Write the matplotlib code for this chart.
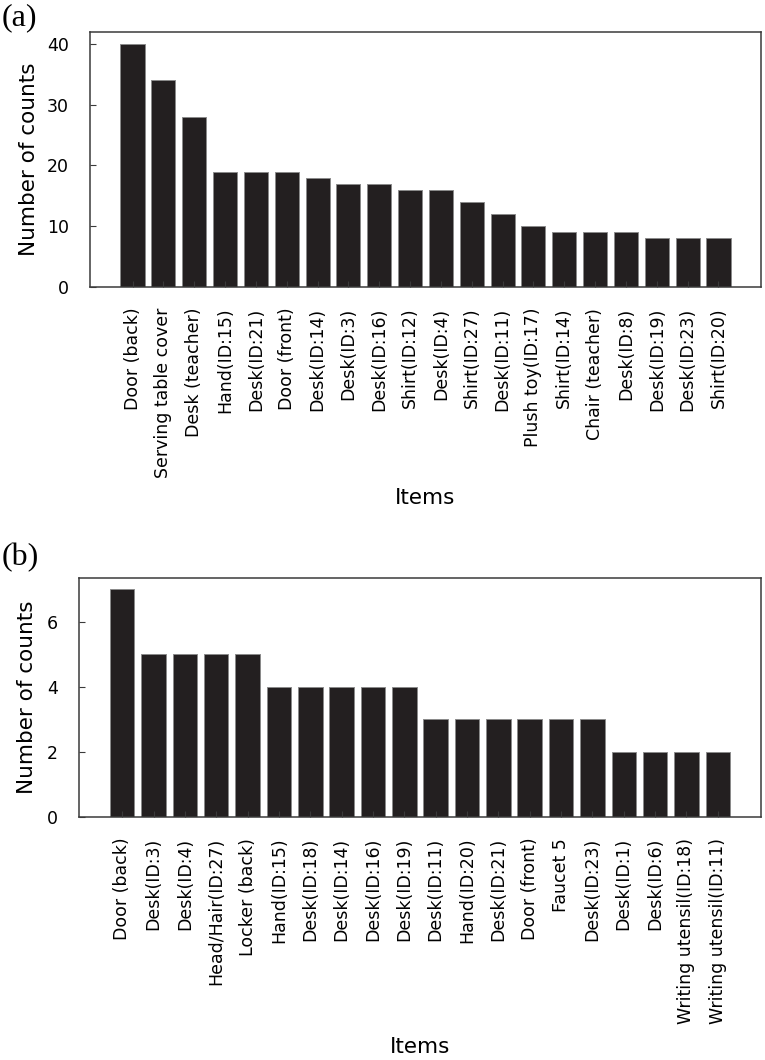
import matplotlib
matplotlib.use("Agg")
import matplotlib.pyplot as plt

# panel (a)
items_a = ["Door (back)", "Serving table cover", "Desk (teacher)", "Hand(ID:15)",
           "Desk(ID:21)", "Door (front)", "Desk(ID:14)", "Desk(ID:3)", "Desk(ID:16)",
           "Shirt(ID:12)", "Desk(ID:4)", "Shirt(ID:27)", "Desk(ID:11)",
           "Plush toy(ID:17)", "Shirt(ID:14)", "Chair (teacher)", "Desk(ID:8)",
           "Desk(ID:19)", "Desk(ID:23)", "Shirt(ID:20)"]
counts_a = [40, 34, 28, 19, 19, 19, 18, 17, 17, 16, 16, 14, 12, 10, 9, 9, 9, 8, 8, 8]

# panel (b)
items_b = ["Door (back)", "Desk(ID:3)", "Desk(ID:4)", "Head/Hair(ID:27)", "Locker (back)",
           "Hand(ID:15)", "Desk(ID:18)", "Desk(ID:14)", "Desk(ID:16)", "Desk(ID:19)",
           "Desk(ID:11)", "Hand(ID:20)", "Desk(ID:21)", "Door (front)", "Faucet 5",
           "Desk(ID:23)", "Desk(ID:1)", "Desk(ID:6)", "Writing utensil(ID:18)",
           "Writing utensil(ID:11)"]
counts_b = [7, 5, 5, 5, 5, 4, 4, 4, 4, 4, 3, 3, 3, 3, 3, 3, 2, 2, 2, 2]

W, H = 765, 1060
fig = plt.figure(figsize=(W / 100, H / 100), dpi=100)

def px_axes(left, top, right, bottom):
    return fig.add_axes([left / W, 1 - bottom / H, (right - left) / W, (bottom - top) / H])

ax_a = px_axes(90, 31.7, 761, 287)
ax_b = px_axes(79, 578, 761, 817)

# (axes, labels, values, yticks, bottom px, xlabel top px, ylabel centre px)
panels = [(ax_a, items_a, counts_a, [0, 10, 20, 30, 40], 287, 488, 29),
          (ax_b, items_b, counts_b, [0, 2, 4, 6], 817, 1037, 27)]

for ax, items, counts, yticks, bottom_px, label_top, ylab_x in panels:
    x = list(range(len(items)))
    ax.bar(x, counts, width=0.78, color="#231f20", edgecolor="#8a8a8a", linewidth=0.7)
    ax.set_xticks(x)
    ax.set_xticklabels(items, rotation=90, fontsize=12.5)
    ax.set_yticks(yticks)
    ax.tick_params(axis="y", labelsize=12.5, direction="in", length=4.5,
                   color="#3a3a3a", pad=15)
    ax.tick_params(axis="x", direction="in", length=4.5, color="#3a3a3a", pad=15)
    for s in ax.spines.values():
        s.set_color("#3a3a3a")
        s.set_linewidth(1.1)
    ax.set_ylabel("Number of counts", fontsize=15.5)
    ax.set_xlabel("Items", fontsize=15.5)
    bb = ax.get_position()
    ax.xaxis.set_label_coords(0.5, -(label_top - bottom_px) / (bb.height * H))
    ax.yaxis.set_label_coords((ylab_x - bb.x0 * W) / (bb.width * W), 0.5)
    ax.yaxis.label.set_va("center")

fig.text(2 / W, 1 - 3 / H, "(a)", family="Liberation Serif", fontsize=23, va="top", ha="left")
fig.text(2 / W, 1 - 543 / H, "(b)", family="Liberation Serif", fontsize=23, va="top", ha="left")

fig.savefig("out.png", dpi=100)
